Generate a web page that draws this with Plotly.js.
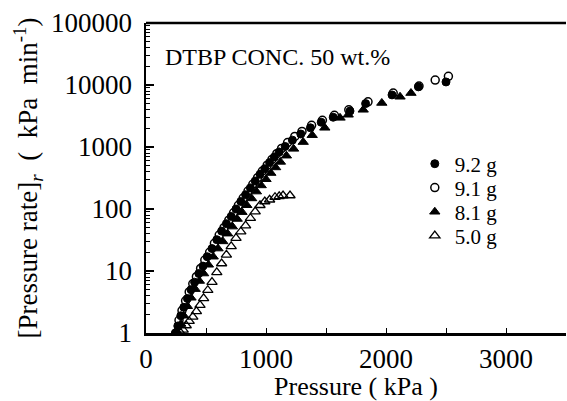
<!DOCTYPE html>
<html>
<head>
<meta charset="utf-8">
<script src="https://cdn.plot.ly/plotly-3.0.1.min.js"></script>
<style>html,body{margin:0;padding:0;background:#fff;}#chart{width:567px;height:401px;}</style>
</head>
<body>
<div id="chart"></div>
<script>
// Series: 9.2 g (filled circles)
const s92_x = [245, 265, 290, 315, 345, 375, 405, 440, 475, 510, 550, 590, 630, 670, 710, 750, 790, 830, 870, 910, 950, 990, 1030, 1070, 1110, 1160, 1220, 1290, 1370, 1460, 1560, 1700, 1830, 2050, 2270, 2500];
const s92_y = [1.0, 1.3, 1.9, 2.6, 3.6, 5.0, 6.6, 9.1, 12, 17, 23, 32, 44, 58, 76, 100, 132, 170, 219, 282, 363, 447, 562, 692, 832, 1020, 1290, 1620, 2040, 2510, 3020, 3800, 5010, 6920, 9330, 11200];
// Series: 9.1 g (open circles)
const s91_x = [250, 275, 300, 330, 360, 390, 420, 455, 490, 530, 570, 610, 650, 690, 730, 770, 810, 850, 890, 930, 970, 1010, 1050, 1090, 1130, 1180, 1240, 1300, 1380, 1470, 1570, 1690, 1850, 2060, 2275, 2410, 2520];
const s91_y = [1.0, 1.6, 2.3, 3.3, 4.6, 6.2, 8.1, 11, 15, 20, 28, 38, 50, 66, 87, 115, 150, 195, 250, 320, 410, 510, 630, 780, 950, 1180, 1480, 1780, 2240, 2700, 3240, 3980, 5350, 7400, 9600, 12000, 13800];
// Series: 8.1 g (filled triangles)
const s81_x = [265, 290, 315, 345, 375, 410, 445, 480, 520, 560, 600, 640, 680, 720, 760, 800, 840, 880, 920, 960, 1000, 1040, 1080, 1120, 1170, 1230, 1310, 1385, 1490, 1617, 1685, 1810, 1965, 2117, 2208];
const s81_y = [1.0, 1.4, 1.9, 2.7, 3.7, 5.1, 6.9, 9.1, 12.6, 17, 23, 30, 40, 52, 69, 89, 115, 148, 191, 240, 302, 380, 468, 575, 724, 933, 1200, 1550, 2040, 2950, 3310, 3980, 5130, 6460, 7410];
// Series: 5.0 g (open triangles)
const s50_x = [290, 310, 335, 360, 390, 420, 450, 480, 515, 550, 590, 630, 670, 710, 750, 790, 830, 870, 910, 950, 990, 1030, 1075, 1110, 1142, 1200];
const s50_y = [1.0, 1.12, 1.32, 1.55, 1.82, 2.24, 2.82, 3.63, 4.9, 6.6, 9.5, 13.2, 18.2, 25, 34, 43, 54, 71, 91, 115, 132, 141, 155, 160, 165, 165];

const seriesNames = ["9.2 g", "9.1 g", "8.1 g", "5.0 g"];
const yTickVals = [1, 10, 100, 1000, 10000, 100000];
const yTickText = ["1", "10", "100", "1000", "10000", "100000"];
const xTickVals = [0, 1000, 2000, 3000];

const minorY = [];
for (let d = 1; d <= 10000; d *= 10) { for (let k = 2; k <= 9; k++) minorY.push(k * d); }

const FONT = '"Liberation Serif", "Times New Roman", Times, serif';
const black = "#000";

const traces = [
  {x: s92_x, y: s92_y, name: seriesNames[0], mode: "markers", type: "scatter", legend: "legend",
   marker: {symbol: "circle", size: 8, color: black, line: {color: black, width: 1}}},
  {x: s91_x, y: s91_y, name: seriesNames[1], mode: "markers", type: "scatter", legend: "legend2",
   marker: {symbol: "circle-open", size: 8, color: black, line: {width: 1.5}}},
  {x: s81_x, y: s81_y, name: seriesNames[2], mode: "markers", type: "scatter", legend: "legend3",
   marker: {symbol: "triangle-up", size: 9, color: black, line: {color: black, width: 1}}},
  {x: s50_x, y: s50_y, name: seriesNames[3], mode: "markers", type: "scatter", legend: "legend4",
   marker: {symbol: "triangle-up-open", size: 9, color: black, line: {width: 1.3}}}
];

const legBase = (yc) => ({x: 0.64, y: yc, xanchor: "left", yanchor: "middle", bgcolor: "rgba(0,0,0,0)",
  font: {family: FONT, size: 21, color: black}, itemwidth: 30, borderwidth: 0});

const layout = {
  width: 567, height: 401,
  margin: {l: 146, r: 1, t: 23, b: 68},
  paper_bgcolor: "#fff", plot_bgcolor: "#fff",
  font: {family: FONT, color: black, size: 22},
  showlegend: true,
  legend: legBase(0.545),
  legend2: legBase(0.468),
  legend3: legBase(0.390),
  legend4: legBase(0.313),
  xaxis: {
    range: [0, 3500], showgrid: false, zeroline: false,
    showline: true, linecolor: black, linewidth: 2.5,
    ticks: "inside", ticklen: 5, tickwidth: 1, tickcolor: black,
    tickmode: "array", tickvals: xTickVals,
    minor: {ticks: "inside", ticklen: 5, tickwidth: 1, tickcolor: black, dtick: 500},
    tickfont: {family: FONT, size: 27, color: black},
    title: {text: "Pressure ( kPa )", font: {family: FONT, size: 26, color: black}, standoff: 2}
  },
  yaxis: {
    type: "log", range: [0, 5], showgrid: false, zeroline: false,
    showline: true, linecolor: black, linewidth: 2.5,
    ticks: "inside", ticklen: 8, tickwidth: 1.2, tickcolor: black,
    tickmode: "array", tickvals: yTickVals, ticktext: yTickText,
    minor: {ticks: "inside", ticklen: 4, tickwidth: 1, tickcolor: black, tickmode: "array", tickvals: minorY},
    tickfont: {family: FONT, size: 27, color: black},
    ticklabelstandoff: 6,
    title: {text: "[Pressure rate]<sub><i>r</i></sub>  (  kPa  min<sup>-1</sup>)", font: {family: FONT, size: 27, color: black}, standoff: 6}
  },
  shapes: [{type: "line", xref: "paper", yref: "paper", x0: 0, x1: 1, y0: 1, y1: 1, line: {color: black, width: 2.5}}],
  annotations: [{text: "DTBP CONC. 50 wt.%", xref: "paper", yref: "paper", x: 0.04, y: 0.89, xanchor: "left", yanchor: "middle", showarrow: false, font: {family: FONT, size: 24, color: black}}]
};

Plotly.newPlot("chart", traces, layout, {displayModeBar: false, staticPlot: true});
</script>
</body>
</html>
